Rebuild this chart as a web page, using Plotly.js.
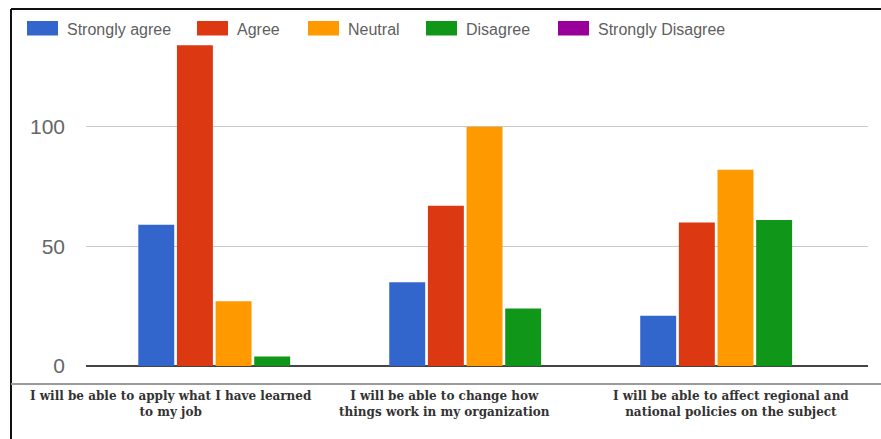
<!DOCTYPE html>
<html><head><meta charset="utf-8">
<script src="https://cdn.plot.ly/plotly-3.0.1.min.js"></script>
<style>html,body{margin:0;padding:0;background:#fff;} #chart{width:881px;height:439px;}</style>
</head><body><div id="chart"></div>
<script>
const categories = [
  "I will be able to apply what I have learned<br>to my job",
  "I will be able to change how<br>things work in my organization",
  "I will be able to affect regional and<br>national policies on the subject"
];
const seriesNames = ["Strongly agree", "Agree", "Neutral", "Disagree", "Strongly Disagree"];
const stronglyAgree = [59, 35, 21];
const agree = [134, 67, 60];
const neutral = [27, 100, 82];
const disagree = [4, 24, 61];
const stronglyDisagree = [0, 0, 0];
const yTickVals = [0, 50, 100];
const yTickText = ["0", "50", "100"];

const seriesValues = [stronglyAgree, agree, neutral, disagree, stronglyDisagree];
const colors = ["#3366cc", "#dc3912", "#ff9900", "#109618", "#990099"];

// plot area geometry (pixels)
const W = 881, H = 439, L = 86, R = 13, T = 40, B = 73;
const pw = W - L - R, ph = H - T - B;
const px = v => (v - L) / pw;
const py = v => (H - B - v) / ph;

// legend item text start positions (px) for each series
const legendTextX = [67, 237, 348, 466, 598];
const legendY = 29;

const legendKeys = ["legend", "legend2", "legend3", "legend4", "legend5"];

const traces = seriesNames.map((name, i) => ({
  type: "bar",
  name: name,
  x: categories,
  y: seriesValues[i],
  legend: legendKeys[i],
  marker: {color: colors[i], line: {width: 0}},
  hoverinfo: "x+y+name"
}));

const labelShift = [-63, -40, -4];
const annotations = categories.map((c, i) => ({
  x: c, xref: "x", y: 0, yref: "paper",
  yanchor: "top", xanchor: "center",
  xshift: labelShift[i], yshift: -21,
  text: "<b>" + c.replace("<br>", "</b><br><b>") + "</b>", showarrow: false, align: "center",
  font: {family: "DejaVu Serif", size: 12, color: "#333"}
}));

const shapes = [
  {type: "line", xref: "paper", yref: "paper", x0: px(11), x1: px(881), y0: py(9), y1: py(9), line: {color: "#111", width: 2}},
  {type: "line", xref: "paper", yref: "paper", x0: px(11), x1: px(11), y0: py(9), y1: py(439), line: {color: "#111", width: 2}},
  {type: "line", xref: "paper", yref: "paper", x0: px(11), x1: px(881), y0: py(384), y1: py(384), line: {color: "#9a9a9a", width: 2}}
];
// wide legend swatches
seriesNames.forEach((n, i) => {
  shapes.push({type: "rect", xref: "paper", yref: "paper",
    x0: px(legendTextX[i] - 40), x1: px(legendTextX[i] - 9),
    y0: py(legendY - 8), y1: py(legendY + 6.5),
    fillcolor: colors[i], line: {width: 0}, layer: "above"});
});

const layout = {
  width: W, height: H,
  margin: {l: L, r: R, t: T, b: B, pad: 0},
  paper_bgcolor: "#fff", plot_bgcolor: "#fff",
  barmode: "group", bargap: 0.23, bargroupgap: 0.07,
  showlegend: true,
  xaxis: {
    type: "category", range: [-0.588, 2.528],
    showticklabels: false, showgrid: false, zeroline: false, showline: false, ticks: ""
  },
  yaxis: {
    range: [0, 136.2], tickvals: yTickVals, ticktext: yTickText,
    showgrid: true, gridcolor: "#c8c8c8", gridwidth: 1,
    zeroline: true, zerolinecolor: "#444", zerolinewidth: 2,
    ticks: "", ticklabelstandoff: 20,
    tickfont: {family: "Liberation Sans", size: 21, color: "#666"},
    showline: false, fixedrange: true
  },
  annotations: annotations,
  shapes: shapes
};
legendKeys.forEach((k, i) => {
  layout[k] = {
    orientation: "h", x: px(legendTextX[i] - 40), xanchor: "left", y: py(legendY), yanchor: "middle",
    font: {family: "Liberation Sans", size: 16, color: "#5f5f5f"},
    bgcolor: "rgba(0,0,0,0)"
  };
});

Plotly.newPlot("chart", traces, layout, {displayModeBar: false, staticPlot: true});
</script>
</body></html>
